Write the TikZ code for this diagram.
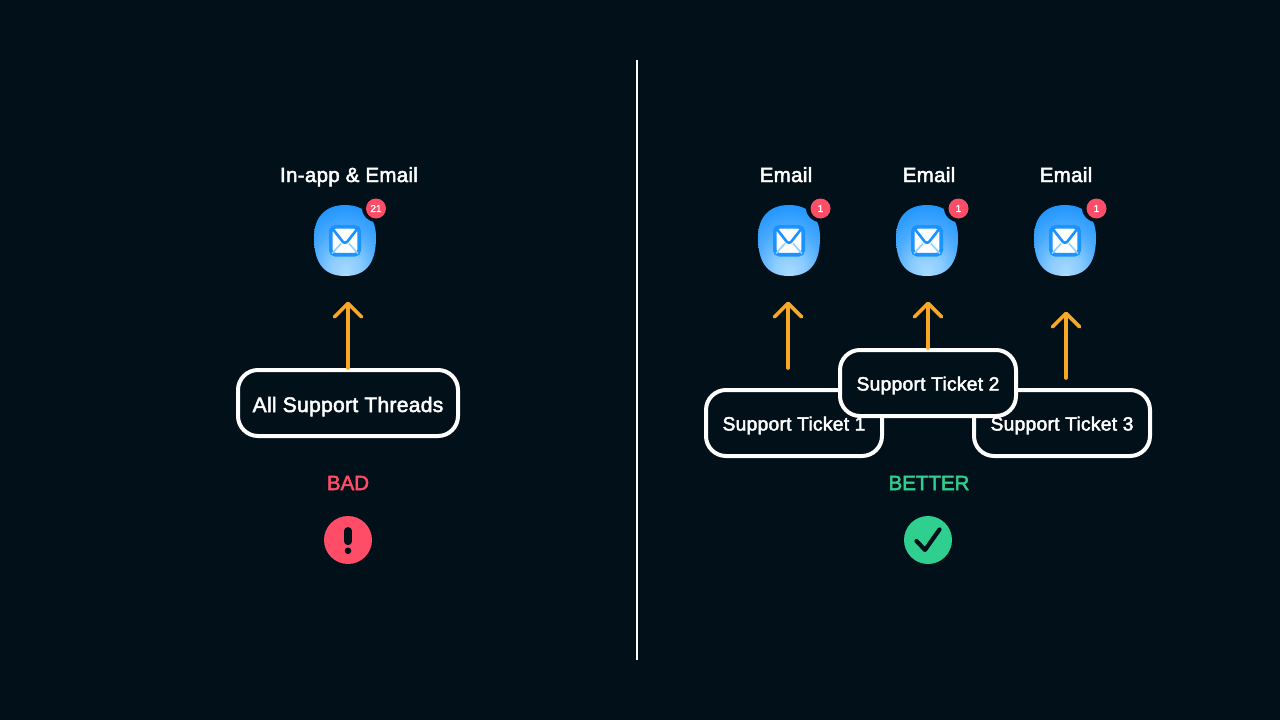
\documentclass[tikz,border=0pt]{standalone}
\usepackage{fontspec}
\usetikzlibrary{arrows.meta}
\newfontfamily\labfont[FakeBold=2.4,LetterSpace=1.5]{Liberation Sans}
\newfontfamily\verdictfont[FakeBold=2.4]{Liberation Sans}
\newfontfamily\tinyfont[FakeBold=1.5]{Liberation Sans}
\definecolor{bgc}{HTML}{021019}
\definecolor{orangec}{HTML}{F9A826}
\definecolor{redc}{HTML}{FF4D67}
\definecolor{greenc}{HTML}{2FD08F}
\definecolor{bluec}{HTML}{1A92FF}
\definecolor{lightc}{HTML}{A8DBFF}
\pgfdeclareradialshading{blobshade}{\pgfpoint{0bp}{-24bp}}{color(0bp)=(lightc);color(12bp)=(lightc!80!bluec);color(26bp)=(lightc!35!bluec);color(42bp)=(bluec);color(100bp)=(bluec)}
\tikzset{
  x=1pt,y=-1pt,
  boxstyle/.style={draw=white,line width=4pt,rounded corners=20pt,fill=bgc,minimum height=66pt,text=white,inner sep=0pt},
  allbox/.style={boxstyle,minimum width=220pt,font=\labfont\fontsize{21}{22}\selectfont,text height=18pt,text depth=0pt},
  ticket/.style={boxstyle,minimum width=176pt,font=\labfont\fontsize{19.2}{22}\selectfont,text height=15pt,text depth=0pt},
  head/.style={text=white,anchor=base,font=\labfont\fontsize{20.5}{24}\selectfont,inner sep=0pt},
  verdict/.style={anchor=base,font=\verdictfont\fontsize{20.5}{24}\selectfont,inner sep=0pt},
  arrowline/.style={draw=orangec,line width=3.6pt,line cap=round,-{Straight Barb[length=13.5pt,width=27pt,round,line width=3.6pt]}},
  badgedot/.style={circle,fill=redc,minimum size=20pt,inner sep=0pt,text=white,font=\tinyfont\fontsize{10}{10}\selectfont},
  mailbox/.pic={
    \shade[shading=blobshade] (0,-35.5) .. controls (20,-35.5) and (31,-23) .. (31,-3)
      .. controls (31,20) and (23,35.5) .. (0,35.5)
      .. controls (-23,35.5) and (-31,20) .. (-31,-3)
      .. controls (-31,-23) and (-20,-35.5) .. (0,-35.5) -- cycle;
    \fill[bgc] (31,-32.5) circle (14);
    \draw[draw=bluec,line width=3.6pt,fill=white,rounded corners=4.5pt] (-14.2,-13.6) rectangle (14.2,14.2);
    \draw[lightc!85!bluec,line width=1.6pt] (-13,13) -- (-4,3) (13,13) -- (4,3);
    \draw[bluec,line width=2.6pt,line join=round] (-13,-12.5) -- (-2,1.5) .. controls (-1,2.5) and (1,2.5) .. (2,1.5) -- (13,-12.5);
  }
}
\begin{document}
\begin{tikzpicture}
\useasboundingbox (0,0) rectangle (1280,720);
\fill[bgc] (0,0) rectangle (1280,720);
\coordinate (divtop) at (637,60);
\coordinate (divbot) at (637,660);
\draw[white,line width=2pt] (divtop) -- (divbot);

% left
\node[head] (lhead) at (349,182) {In-app \& Email};
\pic at (345,240.5) {mailbox};
\node[badgedot] (lbadge) at (376,208.5) {21};
\node[allbox] (allthreads) at (348,403) {All Support Threads};
\coordinate (ltip) at (348,301.5);
\draw[arrowline] (allthreads.north) -- (ltip);
\node[verdict,text=redc] (bad) at (348,490) {BAD};
\node[circle,fill=redc,minimum size=48pt,inner sep=0pt] (badicon) at (348,540) {};
\draw[bgc,line width=7.2pt,line cap=round] (348,530.7) -- (348,541.5);
\fill[bgc] (348,550.8) circle (3.3);

% right
\node[head] (e1) at (786,182) {Email};
\node[head] (e2) at (929,182) {Email};
\node[head] (e3) at (1066,182) {Email};
\pic at (789,240.5) {mailbox};
\pic at (927,240.5) {mailbox};
\pic at (1065,240.5) {mailbox};
\node[badgedot] (b1) at (820.5,208.5) {1};
\node[badgedot] (b2) at (958.5,208.5) {1};
\node[badgedot] (b3) at (1096.5,208.5) {1};

\coordinate (a1s) at (788,368);
\coordinate (a1t) at (788,301.5);
\coordinate (a2t) at (928,301.5);
\coordinate (a3s) at (1066,378);
\coordinate (a3t) at (1066,311.5);
\draw[arrowline] (a1s) -- (a1t);
\draw[arrowline] (a3s) -- (a3t);

\node[ticket] (t1) at (794,423) {Support Ticket 1};
\node[ticket] (t3) at (1062,423) {Support Ticket 3};
\node[ticket] (t2) at (928,383) {Support Ticket 2};
\draw[arrowline] (t2.north) -- (a2t);

\node[verdict,text=greenc] (better) at (929,490) {BETTER};
\node[circle,fill=greenc,minimum size=48pt,inner sep=0pt] (goodicon) at (928,540) {};
\draw[bgc,line width=4.2pt,line cap=round,line join=round] (916.5,541) -- (925,550) -- (939.5,529.5);
\end{tikzpicture}
\end{document}
